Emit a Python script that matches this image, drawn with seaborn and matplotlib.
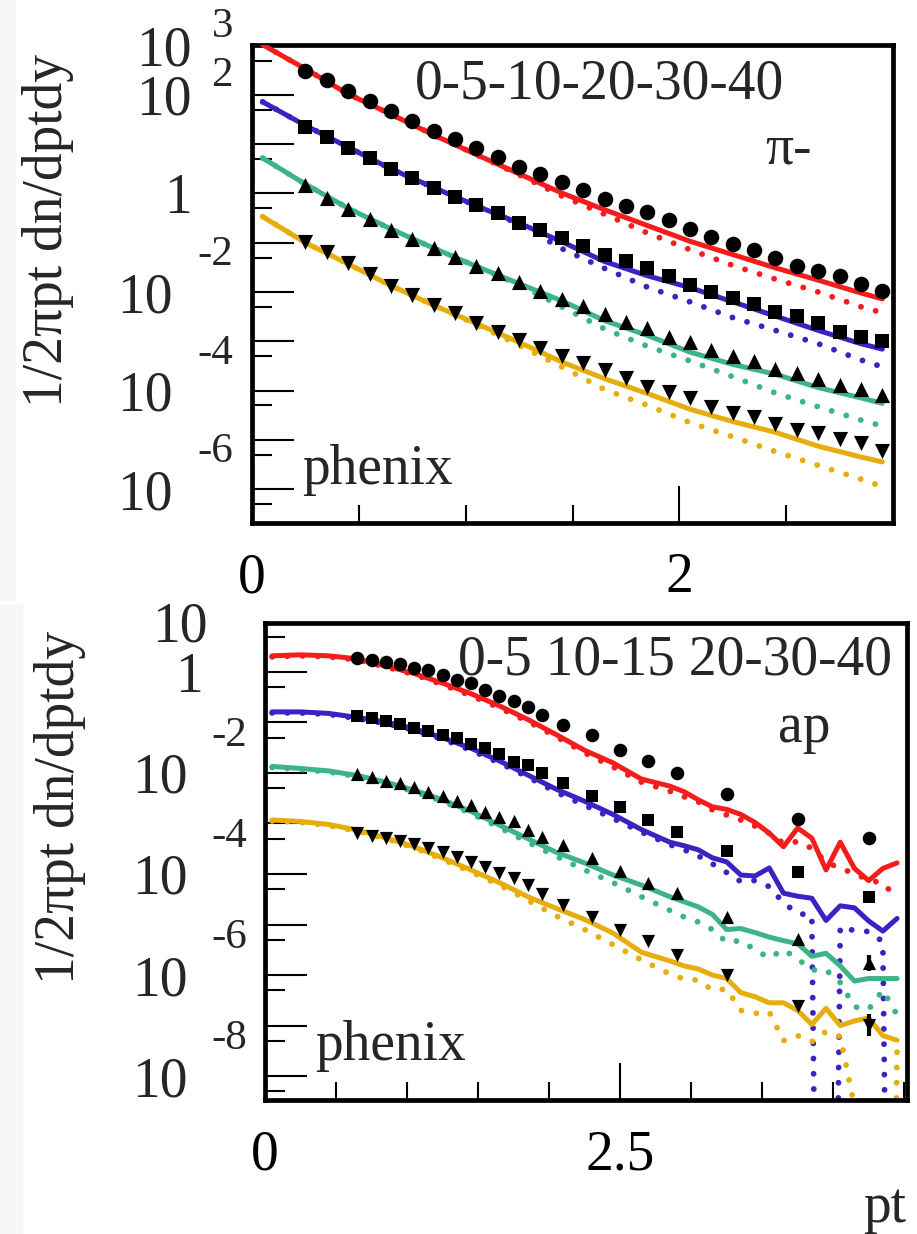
import numpy as np
import matplotlib
matplotlib.use("Agg")
import matplotlib.pyplot as plt
import matplotlib.ticker as mticker
from matplotlib.patches import Rectangle
import seaborn as sns

# ---------------- pi- panel (values are log10 of 1/2pi pt dn/dptdy) ----------------
pi_pt_data = [0.25, 0.35, 0.45, 0.55, 0.65, 0.75, 0.85, 0.95, 1.05, 1.15, 1.25, 1.35, 1.45, 1.55,
              1.65, 1.75, 1.85, 1.95, 2.05, 2.15, 2.25, 2.35, 2.45, 2.55, 2.65, 2.75, 2.85, 2.95]
pi_data_c1 = [2.49, 2.30, 2.08, 1.88, 1.68, 1.47, 1.27, 1.10, 0.92, 0.74, 0.54, 0.40, 0.24, 0.07,
              -0.11, -0.25, -0.38, -0.54, -0.72, -0.88, -1.03, -1.14, -1.31, -1.47, -1.57, -1.67, -1.84, -1.97]
pi_data_c2 = [1.35, 1.15, 0.93, 0.72, 0.50, 0.32, 0.11, -0.07, -0.23, -0.40, -0.60, -0.74, -0.90, -1.06,
              -1.25, -1.38, -1.52, -1.67, -1.85, -2.01, -2.12, -2.24, -2.40, -2.48, -2.63, -2.81, -2.91, -2.99]
pi_data_c3 = [0.17, -0.09, -0.31, -0.52, -0.74, -0.92, -1.10, -1.28, -1.47, -1.62, -1.80, -1.98, -2.14, -2.28,
              -2.44, -2.61, -2.73, -2.91, -3.01, -3.17, -3.29, -3.41, -3.56, -3.64, -3.77, -3.88, -3.97, -4.09]
pi_data_c4 = [-0.98, -1.19, -1.41, -1.63, -1.87, -2.06, -2.26, -2.42, -2.63, -2.81, -2.97, -3.13, -3.29, -3.44,
              -3.59, -3.74, -3.92, -4.04, -4.15, -4.33, -4.45, -4.53, -4.69, -4.80, -4.86, -4.98, -5.06, -5.22]

pi_pt_model = [0.05, 0.25, 0.45, 0.65, 0.85, 1.05, 1.25, 1.45, 1.65, 1.85, 2.05, 2.25, 2.45, 2.65, 2.85, 2.95]
pi_solid_c1 = [3.02, 2.53, 2.02, 1.61, 1.19, 0.79, 0.40, 0.01, -0.33, -0.65, -0.97, -1.24, -1.51, -1.76, -2.02, -2.14]
pi_dot_c1 = [3.02, 2.53, 2.02, 1.61, 1.19, 0.79, 0.38, -0.05, -0.42, -0.80, -1.14, -1.46, -1.74, -2.00, -2.30, -2.42]
pi_solid_c2 = [1.86, 1.38, 0.94, 0.50, 0.12, -0.25, -0.60, -0.98, -1.38, -1.67, -1.91, -2.20, -2.49, -2.78, -3.05, -3.16]
pi_dot_c2 = [1.86, 1.38, 0.94, 0.50, 0.12, -0.25, -0.62, -1.12, -1.52, -1.90, -2.20, -2.52, -2.78, -3.05, -3.38, -3.52]
pi_solid_c3 = [0.72, 0.19, -0.30, -0.72, -1.11, -1.48, -1.83, -2.18, -2.58, -2.88, -3.22, -3.47, -3.67, -3.94, -4.15, -4.26]
pi_dot_c3 = [0.72, 0.19, -0.30, -0.72, -1.11, -1.48, -1.85, -2.30, -2.75, -3.10, -3.40, -3.72, -4.05, -4.33, -4.60, -4.72]
pi_solid_c4 = [-0.47, -1.00, -1.43, -1.87, -2.27, -2.64, -3.02, -3.42, -3.76, -4.06, -4.38, -4.63, -4.85, -5.13, -5.35, -5.45]
pi_dot_c4 = [-0.47, -1.00, -1.43, -1.87, -2.27, -2.66, -3.08, -3.52, -3.98, -4.30, -4.65, -4.94, -5.24, -5.52, -5.80, -5.95]

# ---------------- anti-proton panel ----------------
ap_pt_data = [0.65, 0.75, 0.85, 0.95, 1.05, 1.15, 1.25, 1.35, 1.45, 1.55, 1.65, 1.75, 1.85, 1.95,
              2.1, 2.3, 2.5, 2.7, 2.9, 3.25, 3.75, 4.25]
ap_data_c1 = [0.27, 0.24, 0.20, 0.15, 0.07, 0.03, -0.06, -0.15, -0.22, -0.36, -0.48, -0.57, -0.70, -0.85,
              -1.05, -1.24, -1.54, -1.77, -2.01, -2.41, -2.92, -3.29]
ap_data_c2 = [-0.88, -0.92, -0.98, -1.03, -1.10, -1.16, -1.25, -1.31, -1.43, -1.51, -1.63, -1.78, -1.85, -2.01,
              -2.20, -2.45, -2.67, -2.94, -3.16, -3.54, -3.97, -4.46]
ap_data_c3 = [-2.02, -2.07, -2.15, -2.20, -2.27, -2.37, -2.45, -2.55, -2.63, -2.77, -2.87, -2.96, -3.13, -3.26,
              -3.43, -3.68, -3.95, -4.18, -4.38, -4.85, -5.29, -5.77]
ap_data_c4 = [-3.19, -3.25, -3.29, -3.34, -3.41, -3.48, -3.57, -3.67, -3.76, -3.87, -3.99, -4.07, -4.22, -4.40,
              -4.61, -4.86, -5.11, -5.32, -5.60, -6.00, -6.61, -6.99]
ap_last_err = [0.10, 0.12, 0.16, 0.22]  # error (decades) on the 4.25 point

ap_pt_model = [0.05, 0.25, 0.45, 0.65, 0.85, 1.05, 1.25, 1.45, 1.65, 1.85, 2.05, 2.25, 2.45, 2.65, 2.85,
               2.95, 3.05, 3.15, 3.25, 3.35, 3.45, 3.55, 3.65, 3.75, 3.85, 3.95, 4.05, 4.15, 4.25, 4.35, 4.45]
ap_solid_c1 = [0.32, 0.34, 0.32, 0.26, 0.12, -0.03, -0.22, -0.43, -0.67, -0.94, -1.24, -1.55, -1.80, -2.12, -2.26,
               -2.37, -2.53, -2.67, -2.72, -2.82, -2.98, -3.19, -3.46, -3.09, -3.29, -3.92, -3.37, -3.89, -4.13, -3.89, -3.78]
ap_dot_c1 = [0.30, 0.32, 0.30, 0.24, 0.10, -0.05, -0.25, -0.47, -0.71, -0.98, -1.28, -1.60, -1.88, -2.18, -2.36,
             -2.47, -2.57, -2.73, -2.83, -2.93, -3.05, -3.19, -3.39, -3.36, -3.49, -3.76, -3.89, -3.99, -4.12, -4.18, -4.48]
ap_solid_c2 = [-0.79, -0.79, -0.82, -0.90, -0.99, -1.12, -1.30, -1.51, -1.76, -2.04, -2.32, -2.56, -2.82, -3.12, -3.37,
               -3.44, -3.52, -3.68, -3.76, -4.02, -4.04, -3.88, -4.38, -4.44, -4.48, -4.92, -4.63, -4.67, -4.93, -5.13, -4.88]
ap_dot_c2 = [-0.81, -0.81, -0.84, -0.92, -1.02, -1.15, -1.33, -1.55, -1.80, -2.08, -2.38, -2.64, -2.90, -3.17, -3.42,
             -3.52, -3.64, -3.80, -3.97, -4.15, -4.13, -4.25, -4.57, -4.78, -4.82, -30.0, -5.05, -5.12, -5.14, -5.34, -30.0]
ap_solid_c3 = [-1.87, -1.91, -1.96, -2.05, -2.18, -2.34, -2.53, -2.76, -3.03, -3.30, -3.57, -3.78, -4.02, -4.22, -4.45,
               -4.55, -4.65, -4.80, -5.10, -5.08, -5.16, -5.25, -5.32, -5.38, -5.63, -5.57, -5.82, -6.12, -6.07, -6.07, -6.07]
ap_dot_c3 = [-1.89, -1.93, -1.98, -2.07, -2.20, -2.37, -2.56, -2.80, -3.08, -3.37, -3.65, -3.92, -4.17, -4.45, -4.72,
             -4.85, -4.95, -5.10, -5.35, -5.32, -5.50, -5.66, -5.50, -5.68, -5.90, -5.90, -6.15, -6.63, -6.68, -6.30, -6.79]
ap_solid_c4 = [-2.93, -2.96, -3.02, -3.13, -3.28, -3.46, -3.68, -3.92, -4.17, -4.45, -4.68, -4.90, -5.17, -5.55, -5.72,
               -5.82, -5.88, -6.00, -6.07, -6.35, -6.43, -6.55, -6.55, -6.70, -6.98, -6.66, -7.00, -6.91, -6.85, -7.20, -7.29]
ap_dot_c4 = [-2.95, -2.98, -3.04, -3.15, -3.30, -3.48, -3.71, -3.96, -4.22, -4.52, -4.83, -5.10, -5.40, -5.70, -5.98,
             -6.08, -6.10, -6.30, -6.28, -6.70, -6.76, -6.73, -7.30, -7.20, -7.32, -7.12, -7.22, -8.60, -30.0, -30.0, -7.50]

colors = ["#f41c1c", "#3b22c2", "#3cb486", "#e7ad0c"]
markers = ["o", "s", "^", "v"]

sns.set_style("white")
plt.rcParams["font.family"] = ["Liberation Serif", "DejaVu Serif"]

fig = plt.figure(figsize=(9.17, 12.34), dpi=100)
W, H = 917, 1234
ax1 = fig.add_axes([252 / W, 1 - 523 / H, 641 / W, 478 / H])
ax2 = fig.add_axes([265 / W, 1 - 1100 / H, 642 / W, 477 / H])

# light grey strips at the left edge of the screenshot
fig.patches.append(Rectangle((0, 1 - 600 / H), 15 / W, 600 / H, transform=fig.transFigure,
                             color="#f6f6f6", zorder=-5))
fig.patches.append(Rectangle((0, 0), 22 / W, 1 - 605 / H, transform=fig.transFigure,
                             color="#f6f6f6", zorder=-5))

FS = 40
EXP_FS = 31


def draw_curves(ax, pt_mod, solids, dots):
    for sol, dot, col in zip(solids, dots, colors):
        sns.lineplot(x=pt_mod, y=10 ** np.array(dot), ax=ax, color=col, lw=4.2,
                     linestyle=(0, (0.01, 2.6)), dash_capstyle="round", sort=False,
                     errorbar=None, legend=False, zorder=2)
        sns.lineplot(x=pt_mod, y=10 ** np.array(sol), ax=ax, color=col, lw=3.6,
                     sort=False, errorbar=None, legend=False, zorder=3)


def draw_points(ax, pt, datas, size):
    for d, m in zip(datas, markers):
        s = size * (0.95 if m in ("^", "v") else (0.8 if m == "s" else 1.0))
        sns.scatterplot(x=pt, y=10 ** np.array(d), ax=ax, marker=m, s=s, color="black",
                        linewidth=0, legend=False, zorder=5)


def style_axes(ax, xlim, ylog, xmaj, xlabels, xminor):
    ax.set_yscale("log")
    ax.set_xlim(*xlim)
    ax.set_ylim(10 ** ylog[0], 10 ** ylog[1])
    ax.yaxis.set_major_locator(mticker.LogLocator(base=10, numticks=40))
    ax.yaxis.set_minor_locator(mticker.LogLocator(base=10, subs=(5,), numticks=40))
    ax.yaxis.set_major_formatter(mticker.NullFormatter())
    ax.yaxis.set_minor_formatter(mticker.NullFormatter())
    ax.set_xticks(xmaj)
    ax.set_xticklabels(xlabels)
    ax.xaxis.set_minor_locator(mticker.FixedLocator(xminor))
    ax.tick_params(which="both", direction="in", top=False, right=False, left=True, bottom=True,
                   width=1.5, colors="black")
    ax.tick_params(axis="y", which="major", length=30)
    ax.tick_params(axis="y", which="minor", length=14.5)
    ax.tick_params(axis="x", which="major", length=27, pad=21, labelsize=FS)
    ax.tick_params(axis="x", which="minor", length=13)
    for sp in ax.spines.values():
        sp.set_linewidth(3.4)
        sp.set_color("black")
        sp.set_visible(True)
    ax.set_xlabel("")
    ax.set_ylabel("")
    ax.set_facecolor("white")


def ytick_text(ax, exps, r_pos, r_one, r_neg, r_exp):
    for e in exps:
        y = 10.0 ** e
        if e == 0:
            ax.annotate("1", xy=(0, y), xycoords=("axes fraction", "data"), xytext=(r_one, -20),
                        textcoords="offset pixels", ha="right", va="baseline", fontsize=FS)
            continue
        r10 = r_pos if e > 0 else r_neg
        ax.annotate("10", xy=(0, y), xycoords=("axes fraction", "data"), xytext=(r10, -20),
                    textcoords="offset pixels", ha="right", va="baseline", fontsize=FS)
        if e == 1:
            continue
        dy = 9 if e > 0 else 27
        ax.annotate(str(e), xy=(0, y), xycoords=("axes fraction", "data"), xytext=(r_exp, dy),
                    textcoords="offset pixels", ha="right", va="baseline", fontsize=EXP_FS)


# ---- top panel ----
style_axes(ax1, (0, 3.0), (-6.69, 3.015), [0, 2], ["0", "2"], [0.5, 1.0, 1.5, 2.5])
draw_curves(ax1, pi_pt_model, [pi_solid_c1, pi_solid_c2, pi_solid_c3, pi_solid_c4],
            [pi_dot_c1, pi_dot_c2, pi_dot_c3, pi_dot_c4])
draw_points(ax1, pi_pt_data, [pi_data_c1, pi_data_c2, pi_data_c3, pi_data_c4], 125)
ytick_text(ax1, [3, 2, 0, -2, -4, -6], -60, -60, -79, -19)
ax1.text(0.254, 0.889, "0-5-10-20-30-40", transform=ax1.transAxes, fontsize=FS, va="baseline")
ax1.text(0.800, 0.753, "π-", transform=ax1.transAxes, fontsize=FS, va="baseline")
ax1.text(0.078, 0.081, "phenix", transform=ax1.transAxes, fontsize=FS, va="baseline")

# ---- bottom panel ----
style_axes(ax2, (0, 4.52), (-8.475, 0.97), [0, 2.5], ["0", "2.5"],
           [0.5, 1.0, 1.5, 2.0, 3.0, 3.5, 4.0, 4.5])
draw_curves(ax2, ap_pt_model, [ap_solid_c1, ap_solid_c2, ap_solid_c3, ap_solid_c4],
            [ap_dot_c1, ap_dot_c2, ap_dot_c3, ap_dot_c4])
ap_all = [ap_data_c1, ap_data_c2, ap_data_c3, ap_data_c4]
draw_points(ax2, ap_pt_data, ap_all, 95)
for d, err in zip(ap_all, ap_last_err):
    yv = 10 ** d[-1]
    ax2.errorbar([ap_pt_data[-1]], [yv], yerr=[[yv * (1 - 10 ** -err)], [yv * (10 ** err - 1)]],
                 fmt="none", ecolor="black", elinewidth=3, capsize=0, zorder=5)
ytick_text(ax2, [1, 0, -2, -4, -6, -8], -57, -62, -77, -18)
ax2.text(0.301, 0.891, "0-5 10-15 20-30-40", transform=ax2.transAxes, fontsize=FS,
         va="baseline", clip_on=False)
ax2.text(0.799, 0.751, "ap", transform=ax2.transAxes, fontsize=FS, va="baseline")
ax2.text(0.078, 0.084, "phenix", transform=ax2.transAxes, fontsize=FS, va="baseline")

# axis titles
fig.text(48 / W, 1 - 230 / H, "1/2πpt dn/dptdy", rotation=90, ha="center", va="center", fontsize=FS)
fig.text(60 / W, 1 - 807 / H, "1/2πpt dn/dptdy", rotation=90, ha="center", va="center", fontsize=FS)
fig.text(863 / W, 1 - 1222 / H, "pt", ha="left", va="baseline", fontsize=FS)

fig.savefig("out.png", dpi=100, facecolor="white")
